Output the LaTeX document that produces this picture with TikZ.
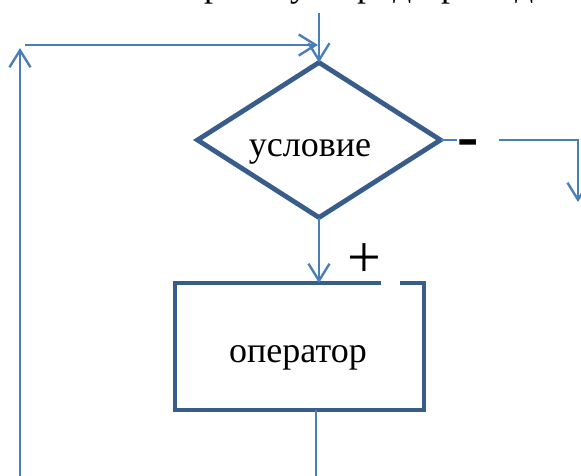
\documentclass[tikz,border=0pt]{standalone}
\usepackage{fontspec}
\setmainfont{Liberation Serif}
\usetikzlibrary{arrows.meta,shapes.geometric}
\definecolor{shapeblue}{HTML}{385D8A}
\definecolor{connblue}{HTML}{4A7EBB}
\tikzset{
 blockline/.style={draw=shapeblue,line width=4.8pt,inner sep=0pt,outer sep=0pt},
 conn/.style={draw=connblue,line width=2.4pt},
 arr/.style={conn,-{Straight Barb[length=17pt,width=21pt,line width=2.4pt]}},
 lbl/.style={font=\fontsize{36}{40}\selectfont,inner sep=0pt,anchor=base},
 toptxt/.style={font=\fontsize{36}{40}\selectfont,inner sep=0pt,anchor=base west},
}
\begin{document}
\begin{tikzpicture}[x=1pt,y=-1pt]
\clip (0,0) rectangle (581,476);
\fill[white] (0,0) rectangle (581,476);
% fragments of the cut-off line of text above
\node[toptxt] (t1) at (204,-3.5) {р};
\node[toptxt] (t2) at (290,-3.5) {у};
\node[toptxt] (t3) at (357,-3.5) {р};
\node[toptxt] (t4) at (393,-3.5) {д};
\node[toptxt] (t5) at (441,-3.5) {р};
\node[toptxt] (t6) at (515,-3.5) {д};
% blocks
\node[blockline,diamond,minimum width=243pt,minimum height=155pt] (dia) at (319,140) {};
\node[lbl] (cond) at (310,157) {условие};
\node[blockline,rectangle,minimum width=249pt,minimum height=127pt] (op) at (299.5,346.5) {};
\node[lbl] (optxt) at (298,362) {оператор};
% coordinates
\coordinate (in) at (319,13);
\coordinate (lb) at (20,476);
\coordinate (lt) at (20,48);
\coordinate (ls) at (25,45);
\coordinate (le) at (318,45);
\coordinate (r1) at (578,138.5);
\coordinate (r2) at (578,202);
\coordinate (ob) at (316,476);
% connectors
\draw[arr] (in) -- (dia.north);
\draw[arr] (lb) -- (lt);
\draw[arr] (ls) -- (le);
\draw[arr] (dia.south) -- (dia.south |- op.north);
\draw[arr] (dia.east) -- (dia.east -| r1) -- (r2);
\draw[conn] (op.south -| ob) -- (ob);
% white gaps left by the label boxes
\fill[white] (381,279) rectangle (400,289);
\fill[white] (457,133) rectangle (499,144);
% labels
\node[inner sep=0pt,font=\fontsize{64}{64}\selectfont\bfseries] (minus) at (468.5,149) {-};
\node[inner sep=0pt,font=\fontsize{60}{60}\selectfont] (plus) at (364,261) {+};
\end{tikzpicture}
\end{document}
